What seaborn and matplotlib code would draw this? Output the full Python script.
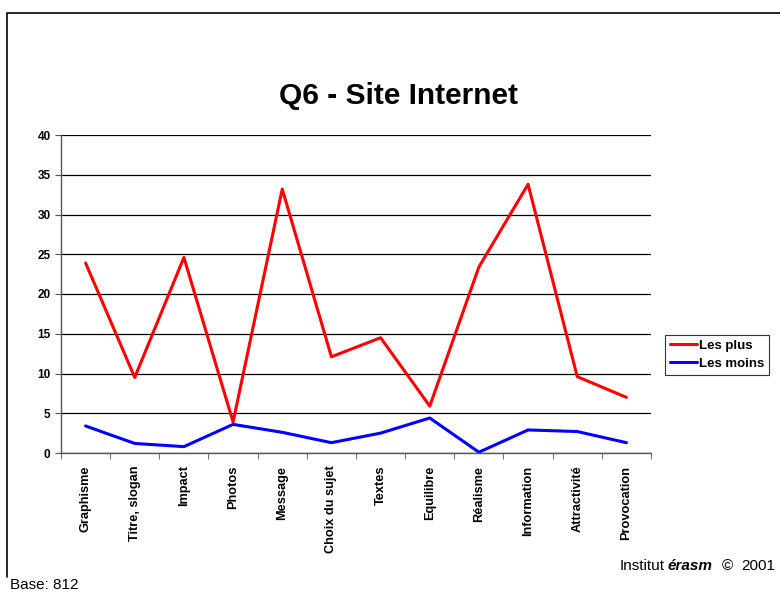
import pandas as pd
import matplotlib.pyplot as plt
import seaborn as sns
from matplotlib.lines import Line2D
from matplotlib.ticker import FixedLocator

# Données
criteres = ['Graphisme', 'Titre, slogan', 'Impact', 'Photos', 'Message', 'Choix du sujet',
            'Textes', 'Equilibre', 'Réalisme', 'Information', 'Attractivité', 'Provocation']
les_plus = [23.9, 9.5, 24.6, 3.9, 33.2, 12.1, 14.5, 5.9, 23.4, 33.8, 9.6, 7.0]
les_moins = [3.4, 1.2, 0.8, 3.6, 2.6, 1.3, 2.5, 4.4, 0.1, 2.9, 2.7, 1.3]

df = pd.DataFrame({
    'critere': criteres * 2,
    'valeur': les_plus + les_moins,
    'serie': ['Les plus'] * len(criteres) + ['Les moins'] * len(criteres),
})

sns.set_style('white')
plt.rcParams['font.family'] = ['Liberation Sans', 'DejaVu Sans']
plt.rcParams['text.color'] = 'black'
plt.rcParams['xtick.color'] = 'black'
plt.rcParams['ytick.color'] = 'black'

fig = plt.figure(figsize=(7.8, 5.93), dpi=100)
ax = fig.add_axes([61 / 780, 1 - 453 / 593, 590 / 780, 318 / 593])

sns.lineplot(data=df, x='critere', y='valeur', hue='serie', sort=False,
             palette={'Les plus': '#ff0000', 'Les moins': '#0000ff'},
             linewidth=2.2, ax=ax)

# axes
ax.set_xlim(-0.5, len(criteres) - 0.5)
ax.set_ylim(0, 40)
ax.set_yticks(range(0, 41, 5))
ax.yaxis.grid(True, color='black', linewidth=0.9)
ax.set_axisbelow(True)
ax.set_xlabel('')
ax.set_ylabel('')
for s in ['top', 'right']:
    ax.spines[s].set_visible(False)
for s in ['left', 'bottom']:
    ax.spines[s].set_color('#555555')
    ax.spines[s].set_linewidth(1.0)

ax.set_xticks(range(len(criteres)))
ax.set_xticklabels(criteres, rotation=90, fontsize=9.2, fontweight='bold')
ax.tick_params(axis='x', which='major', length=0, pad=9)
ax.xaxis.set_minor_locator(FixedLocator([i - 0.5 for i in range(len(criteres) + 1)]))
ax.tick_params(axis='x', which='minor', length=4, color='#555555', bottom=True)
ax.tick_params(axis='y', length=4, color='#555555', left=True, labelsize=8.5)
for t in ax.get_yticklabels():
    t.set_fontweight('bold')

# légende
leg = ax.legend(loc='upper left', bbox_to_anchor=(665 / 780, 1 - 335 / 593),
                bbox_transform=fig.transFigure, frameon=True,
                fancybox=False, edgecolor='black', fontsize=9.5,
                handlelength=2.1, handletextpad=0.15, borderpad=0.35, labelspacing=0.45,
                borderaxespad=0)
for t in leg.get_texts():
    t.set_fontweight('bold')
leg.get_frame().set_linewidth(0.8)

# textes
fig.text(399 / 780, 1 - 96 / 593, 'Q6 - Site Internet', fontsize=21.5, fontweight='bold',
         ha='center', va='center')
fig.text(10 / 780, 1 - 585 / 593, 'Base: 812', fontsize=11, ha='left', va='center')
fig.text(620 / 780, 1 - 566 / 593, 'Institut', fontsize=11, ha='left', va='center')
fig.text(668 / 780, 1 - 566 / 593, 'érasm', fontsize=11, fontweight='bold',
         fontstyle='italic', ha='left', va='center')
fig.text(722 / 780, 1 - 566 / 593, '©', fontsize=11, ha='left', va='center')
fig.text(775 / 780, 1 - 566 / 593, '2001', fontsize=11, ha='right', va='center')

# cadre (bords haut et gauche)
fig.add_artist(Line2D([7 / 780, 7 / 780, 1.0], [1 - 577 / 593, 1 - 13 / 593, 1 - 13 / 593],
                      transform=fig.transFigure, color='black', linewidth=1.2))

fig.savefig('out.png', dpi=100)
